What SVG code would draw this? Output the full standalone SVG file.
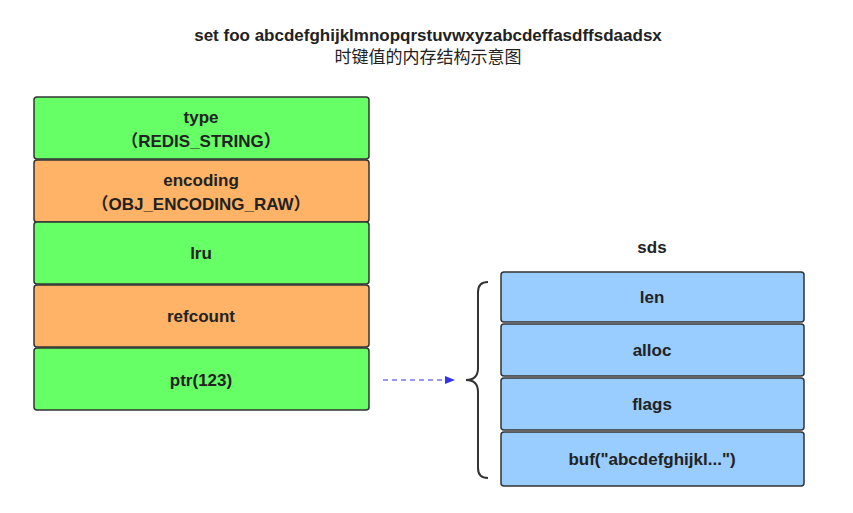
<svg xmlns="http://www.w3.org/2000/svg" width="853" height="513" viewBox="0 0 853 513">
<defs>
<style>
text{font-family:"Liberation Sans","Noto Sans CJK SC",sans-serif;font-size:17px;fill:#222;text-anchor:middle;font-weight:bold}
.g{fill:#66ff66;stroke:#333;stroke-width:1.5}
.o{fill:#ffb366;stroke:#333;stroke-width:1.5}
.b{fill:#99ccff;stroke:#333;stroke-width:1.5}
</style>
<marker id="ah" markerWidth="10" markerHeight="8" refX="10" refY="4" orient="auto" markerUnits="userSpaceOnUse"><path d="M0,0L10,4L0,8Z" fill="#3333ee"/></marker>
</defs>
<rect width="853" height="513" fill="#fff"/>
<text x="428" y="41">set foo abcdefghijklmnopqrstuvwxyzabcdeffasdffsdaadsx</text>
<text x="428" y="63" style="font-weight:normal">时键值的内存结构示意图</text>
<g id="type"><rect class="g" x="34" y="97" width="335" height="62" rx="3"/><text x="201" y="123">type</text><text x="201" y="147">（REDIS_STRING）</text></g>
<g id="encoding"><rect class="o" x="34" y="160" width="335" height="62" rx="3"/><text x="201" y="186">encoding</text><text x="201" y="210">（OBJ_ENCODING_RAW）</text></g>
<g id="lru"><rect class="g" x="34" y="222" width="335" height="62" rx="3"/><text x="201" y="259">lru</text></g>
<g id="refcount"><rect class="o" x="34" y="285" width="335" height="62" rx="3"/><text x="201" y="322">refcount</text></g>
<g id="ptr"><rect class="g" x="34" y="348" width="335" height="62" rx="3"/><text x="201" y="386">ptr(123)</text></g>
<g id="sds-label"><text x="652" y="253">sds</text></g>
<g id="len"><rect class="b" x="501" y="272" width="303" height="50" rx="3"/><text x="652" y="303">len</text></g>
<g id="alloc"><rect class="b" x="501" y="324" width="303" height="52" rx="3"/><text x="652" y="356">alloc</text></g>
<g id="flags"><rect class="b" x="501" y="378" width="303" height="52" rx="3"/><text x="652" y="410">flags</text></g>
<g id="buf"><rect class="b" x="501" y="432" width="303" height="54" rx="3"/><text x="652" y="465">buf("abcdefghijkl...")</text></g>
<g id="connectors">
<line x1="383" y1="380" x2="455" y2="380" stroke="#7777ee" stroke-width="1.5" stroke-dasharray="5,4" marker-end="url(#ah)"/>
<path d="M488,282 Q478,282 478,292 L478,368 Q478,380 466,380 Q478,380 478,392 L478,468 Q478,478 488,478" fill="none" stroke="#333" stroke-width="2"/>
</g>
</svg>
